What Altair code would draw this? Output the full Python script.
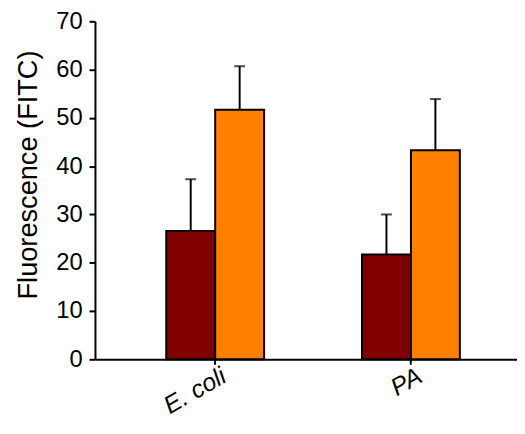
import altair as alt
import pandas as pd

groups = ["E. coli", "E. coli", "PA", "PA"]
series = ["A", "B", "A", "B"]
values = [26.6, 51.7, 21.7, 43.3]
errors = [10.7, 9.0, 8.3, 10.6]

colors = ["#800000", "#FF8000"]

df = pd.DataFrame({"group": groups, "series": series, "value": values, "err": errors})
df["upper"] = df["value"] + df["err"]

font = "Liberation Sans"

x = alt.X("group:N", title=None, sort=["E. coli", "PA"],
          scale=alt.Scale(paddingInner=0.5, paddingOuter=0.328, align=0.555),
          axis=alt.Axis(labelAngle=-30, labelAlign="right", labelBaseline="top",
                        labelFontStyle="italic", labelFontSize=25, labelFont=font,
                        labelColor="black", labelPadding=-1, labelOffset=3,
                        domainColor="black", domainWidth=2, tickColor="black",
                        tickWidth=2, tickSize=5))
xo = alt.XOffset("series:N", scale=alt.Scale(paddingInner=0, paddingOuter=0))
y = alt.Y("value:Q", title="Fluorescence (FITC)",
          scale=alt.Scale(domain=[0, 70], nice=False),
          axis=alt.Axis(values=[0, 10, 20, 30, 40, 50, 60, 70], grid=False,
                        labelFontSize=24, labelFont=font, labelColor="black",
                        titleFontSize=27.5, titleFont=font, titleFontWeight="normal",
                        titleColor="black", titlePadding=13, labelPadding=7,
                        titleY=155,
                        domainColor="black", domainWidth=2, tickColor="black",
                        tickWidth=2, tickSize=6))

base = alt.Chart(df)

err = base.mark_rule(color="black", strokeWidth=2).encode(
    x=x, xOffset=xo, y=y, y2="upper:Q")
cap = base.mark_tick(color="black", thickness=2, size=11, orient="horizontal").encode(
    x=x, xOffset=xo, y=alt.Y("upper:Q"))
bars = base.mark_bar(stroke="black", strokeWidth=2).encode(
    x=x, xOffset=xo, y=y,
    color=alt.Color("series:N", scale=alt.Scale(domain=["A", "B"], range=colors), legend=None))

chart = alt.layer(err, cap, bars).properties(
    width=427, height=342,
    autosize=alt.AutoSizeParams(type="none"),
    padding={"left": 88, "top": 11, "right": 0, "bottom": 65},
).configure_view(stroke=None)

chart.save("out.html", embed_options={"renderer": "svg", "actions": False})
